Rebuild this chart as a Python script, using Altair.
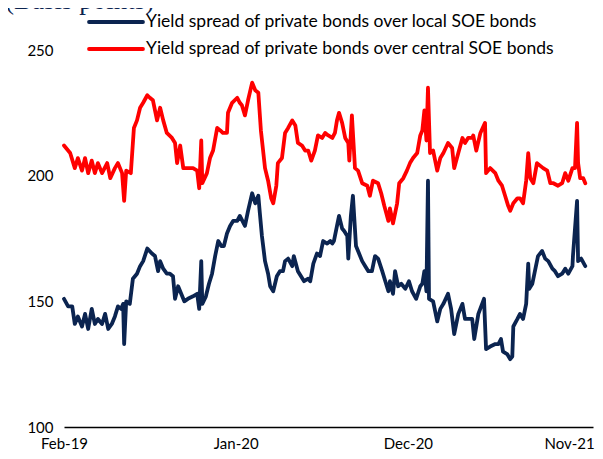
import altair as alt
import pandas as pd

start_date = "2019-02-01"
series_names = [
    "Yield spread of private bonds over local SOE bonds",
    "Yield spread of private bonds over central SOE bonds",
]
series_colors = ["#0b2450", "#ff0000"]

# days since 1 Feb 2019, basis points
local_days = [0, 8, 16, 21, 27, 35, 41, 47, 54, 60, 66, 74, 80, 86, 93, 99, 105, 111, 115, 117,
              121, 128, 134, 142, 148, 154, 162, 171, 177, 183, 187, 193, 200, 206, 212, 216, 222,
              228, 234, 241, 251, 259, 263, 267, 269, 276, 282, 288, 294, 300, 306, 311, 317, 323,
              329, 337, 342, 352, 358, 366, 372, 378, 381, 385, 391, 397, 401, 407, 414, 420, 426,
              430, 436, 444, 447, 455, 461, 467, 475, 479, 485, 492, 498, 504, 512, 518, 522, 525,
              531, 535, 541, 545, 551, 553, 558, 562, 568, 572, 580, 586, 592, 599, 605, 611, 619,
              625, 631, 634, 640, 644, 650, 656, 664, 671, 677, 685, 693, 697, 701, 705, 708, 710,
              718, 726, 732, 738, 747, 753, 759, 767, 775, 780, 786, 794, 798, 806, 817, 821, 829,
              839, 845, 850, 854, 862, 868, 872, 874, 882, 887, 893, 899, 903, 905, 911, 915, 922,
              930, 936, 942, 950, 955, 961, 969, 975, 981, 989, 990, 998, 1000, 1006, 1014]
local_vals = [151, 148, 148, 141, 144, 140, 145, 139, 147, 141, 143, 141, 145, 139, 141, 144, 148, 147, 149, 133,
              150, 149, 159, 161, 164, 166, 171, 169, 168, 162, 166, 163, 161, 161, 160, 151, 156,
              153, 150, 151, 152, 153, 147, 166, 149, 152, 157, 161, 168, 174, 172, 172, 177, 180,
              182, 182, 184, 180, 186, 193, 189, 192, 185, 176, 166, 161, 156, 154, 160, 162, 162,
              166, 167, 164, 168, 162, 160, 158, 159, 158, 165, 169, 168, 174, 173, 174, 173, 174,
              180, 184, 179, 178, 176, 167, 184, 192, 172, 170, 166, 164, 162, 162, 168, 167, 162,
              158, 154, 158, 153, 162, 156, 157, 155, 158, 154, 151, 156, 157, 162, 154, 198, 151,
              150, 142, 147, 149, 153, 147, 137, 145, 149, 143, 143, 143, 135, 145, 151, 131, 132,
              133, 133, 135, 130, 129, 127, 128, 140, 143, 145, 143, 149, 165, 155, 157, 161, 168,
              170, 167, 166, 163, 162, 160, 161, 163, 161, 164, 168, 190, 166, 167, 164]

central_days = [0, 12, 21, 27, 35, 41, 47, 54, 60, 66, 74, 84, 90, 99, 105, 113, 117, 121, 130, 136,
                142, 148, 154, 162, 167, 173, 181, 187, 193, 200, 210, 216, 220, 226, 232, 241, 251,
                259, 263, 267, 269, 278, 284, 290, 298, 304, 309, 317, 319, 327, 337, 342, 346, 352,
                358, 366, 372, 378, 383, 391, 397, 403, 407, 413, 416, 424, 430, 436, 444, 450, 455,
                463, 469, 475, 481, 488, 494, 502, 508, 514, 522, 527, 531, 535, 541, 547, 553, 555,
                560, 566, 572, 580, 590, 595, 601, 611, 617, 623, 631, 634, 640, 648, 652, 660, 667,
                673, 679, 687, 693, 697, 701, 705, 708, 712, 718, 726, 732, 738, 747, 755, 759, 767,
                775, 780, 786, 794, 796, 802, 810, 819, 821, 829, 839, 845, 852, 858, 864, 868, 874,
                882, 887, 893, 899, 903, 907, 913, 920, 926, 932, 940, 946, 952, 961, 969, 975, 981,
                989, 994, 998, 1000, 1004, 1010, 1014]
central_vals = [212, 209, 203, 207, 202, 207, 201, 206, 201, 205, 201, 205, 199, 203, 205, 201, 190, 202, 201, 219,
                222, 227, 229, 232, 231, 230, 222, 227, 222, 217, 215, 213, 205, 212, 203, 203, 203,
                202, 195, 214, 197, 201, 207, 210, 219, 218, 217, 217, 225, 229, 231, 229, 228, 224,
                230, 237, 234, 233, 218, 203, 198, 191, 189, 196, 205, 207, 217, 219, 222, 220, 213,
                212, 210, 210, 206, 210, 216, 215, 217, 216, 215, 217, 222, 225, 221, 215, 213, 206,
                224, 203, 202, 197, 196, 192, 198, 197, 193, 188, 182, 187, 181, 189, 197, 199, 202,
                205, 207, 209, 216, 218, 226, 214, 235, 209, 210, 202, 207, 209, 213, 211, 203, 209,
                215, 213, 215, 215, 216, 210, 217, 221, 201, 203, 201, 198, 196, 192, 188, 186, 189,
                191, 191, 189, 198, 209, 199, 197, 205, 204, 203, 202, 197, 197, 196, 197, 201, 198,
                203, 203, 221, 205, 199, 199, 197]

tick_dates = ["2019-02-01T00:00:00", "2020-01-01T00:00:00", "2020-12-01T00:00:00", "2021-11-01T00:00:00"]
x_domain = ["2019-02-01T00:00:00", "2021-11-26T00:00:00"]
y_domain = [100, 250]
y_ticks = [100, 150, 200, 250]

base = pd.Timestamp(start_date)
df = pd.concat([
    pd.DataFrame({"date": base + pd.to_timedelta(local_days, unit="D"), "value": local_vals,
                  "series": series_names[0]}),
    pd.DataFrame({"date": base + pd.to_timedelta(central_days, unit="D"), "value": central_vals,
                  "series": series_names[1]}),
])
df["date"] = df["date"].dt.strftime("%Y-%m-%dT%H:%M:%S")

FONT = "Lato"
color_scale = alt.Scale(domain=series_names, range=series_colors)

lines = alt.Chart(df).mark_line(strokeWidth=3.8, strokeJoin="round", strokeCap="round").encode(
    x=alt.X("date:T", title=None,
            scale=alt.Scale(domain=x_domain),
            axis=alt.Axis(values=tick_dates, format="%b-%y", grid=False, ticks=False,
                          domain=True, domainColor="#000000", domainWidth=1.5,
                          labelFont=FONT, labelFontSize=15, labelColor="#000000",
                          labelPadding=9, labelAlign="center", labelFlush=False,
                          labelOffset={"condition": {"test": "datum.index == 1", "value": -11},
                                       "value": 0})),
    y=alt.Y("value:Q", title=None,
            scale=alt.Scale(domain=y_domain, nice=False, zero=False),
            axis=alt.Axis(values=y_ticks, grid=False, ticks=False, domain=False,
                          labelFont=FONT, labelFontSize=15, labelColor="#000000",
                          labelPadding=11)),
    color=alt.Color("series:N", scale=color_scale, legend=None),
    detail="series:N",
)

legend_df = pd.DataFrame({"series": series_names})
leg_y = alt.Y("series:N", scale=alt.Scale(type="point", domain=series_names, range=[-28, -1], padding=0),
              axis=None)

leg_rule = alt.Chart(legend_df).mark_rule(strokeWidth=3.8, strokeCap="round").encode(
    x=alt.value(25), x2=alt.value(79), y=leg_y,
    color=alt.Color("series:N", scale=color_scale, legend=None),
)
leg_text = alt.Chart(legend_df).mark_text(align="left", baseline="middle", font=FONT, fontSize=17.5,
                                          color="#000000").encode(
    x=alt.value(82), y=leg_y, text="series:N",
)

title_df = pd.DataFrame({"label": ["(Basis points)"]})
title_text = alt.Chart(title_df).mark_text(align="left", baseline="alphabetic", font="Liberation Serif",
                                           fontSize=27, color="#0b2450").encode(
    x=alt.value(-59), y=alt.value(-41), text="label:N",
)

chart = alt.layer(lines, leg_rule, leg_text, title_text).resolve_scale(y="independent").properties(
    width=529, height=377, autosize="none",
    padding={"left": 56, "top": 42, "right": 2, "bottom": 24},
).configure_view(stroke=None)

chart.save("out.html", embed_options={"renderer": "svg", "actions": False})
